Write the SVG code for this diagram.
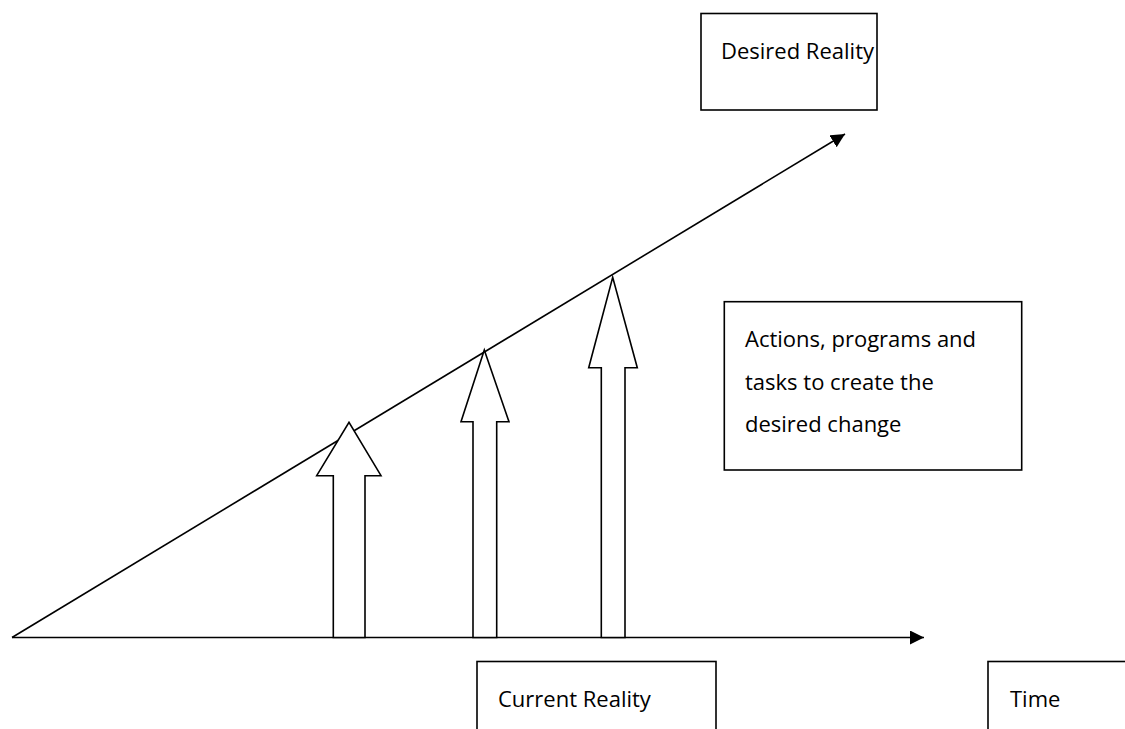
<svg xmlns="http://www.w3.org/2000/svg" width="1125" height="729" viewBox="0 0 1125 729">
<style>
.box{fill:#fff;stroke:#000;stroke-width:1.6}
.ln{fill:none;stroke:#000;stroke-width:1.6}
.ar{fill:#fff;stroke:#000;stroke-width:1.6;stroke-linejoin:miter}
text{font-family:"Open Sans","Lato","Liberation Sans",sans-serif;font-size:22px;fill:#000}
</style>
<defs>
<marker id="tri" viewBox="0 0 10 10" refX="10" refY="5" markerWidth="14" markerHeight="14" markerUnits="userSpaceOnUse" orient="auto">
<path d="M0,0 L10,5 L0,10 z" fill="#000"/>
</marker>
</defs>
<rect width="1125" height="729" fill="#fff"/>
<g id="connectors">
<line class="ln" x1="12" y1="637.5" x2="845" y2="134" marker-end="url(#tri)"/>
<line class="ln" x1="12" y1="637.5" x2="924" y2="637.5" marker-end="url(#tri)"/>
</g>
<g id="arrow1"><polygon class="ar" points="333.3,637.5 333.3,475.7 316.7,475.7 349,422.3 381,475.7 365,475.7 365,637.5"/></g>
<g id="arrow2"><polygon class="ar" points="473,637.5 473,421.7 461,421.7 484.3,350 509,421.7 496.7,421.7 496.7,637.5"/></g>
<g id="arrow3"><polygon class="ar" points="601.3,637.5 601.3,367.7 588.7,367.7 612.7,277.3 637.3,367.7 625,367.7 625,637.5"/></g>
<g id="desired-reality">
<rect class="box" x="701" y="13.5" width="176" height="96.5"/>
<text x="721" y="59">Desired Reality</text>
</g>
<g id="actions">
<rect class="box" x="724.3" y="301.7" width="297.4" height="168.3"/>
<text x="745" y="346.7">Actions, programs and</text>
<text x="745" y="389.5">tasks to create the</text>
<text x="745" y="432">desired change</text>
</g>
<g id="current-reality">
<rect class="box" x="477" y="661.5" width="239" height="80"/>
<text x="498" y="707">Current Reality</text>
</g>
<g id="time">
<rect class="box" x="988" y="661.5" width="150" height="80"/>
<text x="1010" y="707">Time</text>
</g>
</svg>
